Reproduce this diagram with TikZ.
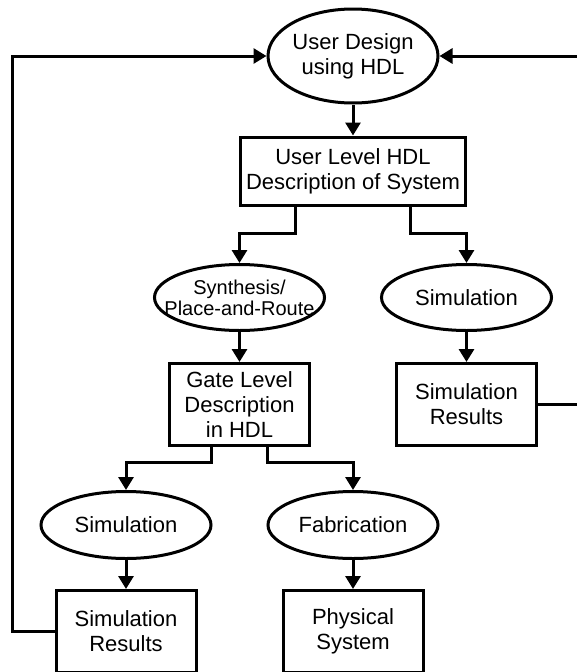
\documentclass[tikz,border=0pt]{standalone}
\usepackage{fontspec}
\setmainfont{Liberation Sans}
\usetikzlibrary{arrows.meta,shapes.geometric}
\begin{document}
\begin{tikzpicture}[x=1pt,y=-1pt,
  every node/.style={font=\fontsize{22}{25}\selectfont, align=center},
  oval/.style={ellipse, draw, line width=3pt, inner sep=-60pt, minimum width=170pt, minimum height=67pt},
  box/.style={rectangle, draw, line width=3pt, inner sep=0pt, minimum width=140pt, minimum height=82pt},
  arr/.style={line width=3pt, -{Triangle[length=13pt,width=15pt]}},
  ln/.style={line width=3pt}]
\useasboundingbox (0,0) rectangle (577,672);
\clip (0,0) rectangle (577,672);

\node[oval, minimum width=170pt, minimum height=94pt] (top) at (353,56) {User Design\\using HDL};
\node[box, minimum width=225pt, minimum height=68pt] (box1) at (353,171) {User Level HDL\\Description of System};
\node[oval, minimum height=66pt, font=\fontsize{20}{21}\selectfont] (synth) at (239.5,297.5) {Synthesis/\\Place-and-Route};
\node[oval, minimum height=66pt] (simR) at (466.5,297.5) {Simulation};
\node[box] (gate) at (239.5,404.5) {Gate Level\\Description\\in HDL};
\node[box] (simres1) at (466.5,404.5) {Simulation\\Results};
\node[oval] (simL) at (126,525) {Simulation};
\node[oval] (fab) at (353,525) {Fabrication};
\node[box] (simres2) at (126,631.5) {Simulation\\Results};
\node[box] (phys) at (353,631.5) {Physical\\System};

\coordinate (lft) at (12,0);
\coordinate (rgt) at (600,0);

\draw[arr] (top) -- (box1);
\draw[arr] ([xshift=-58pt]box1.south) -- ++(0,27) -| (synth.north);
\draw[arr] ([xshift=57pt]box1.south) -- ++(0,27) -| (simR.north);
\draw[arr] (synth) -- (gate);
\draw[arr] (simR) -- (simres1);
\draw[arr] ([xshift=-28.5pt]gate.south) -- ++(0,15) -| (simL.north);
\draw[arr] ([xshift=27.5pt]gate.south) -- ++(0,15) -| (fab.north);
\draw[arr] (simL) -- (simres2);
\draw[arr] (fab) -- (phys);
\draw[arr] (simres2.west) -| (lft |- top.west) -- (top.west);
\draw[arr] (simres1.east) -| (rgt |- top.east) -- (top.east);
\end{tikzpicture}
\end{document}
